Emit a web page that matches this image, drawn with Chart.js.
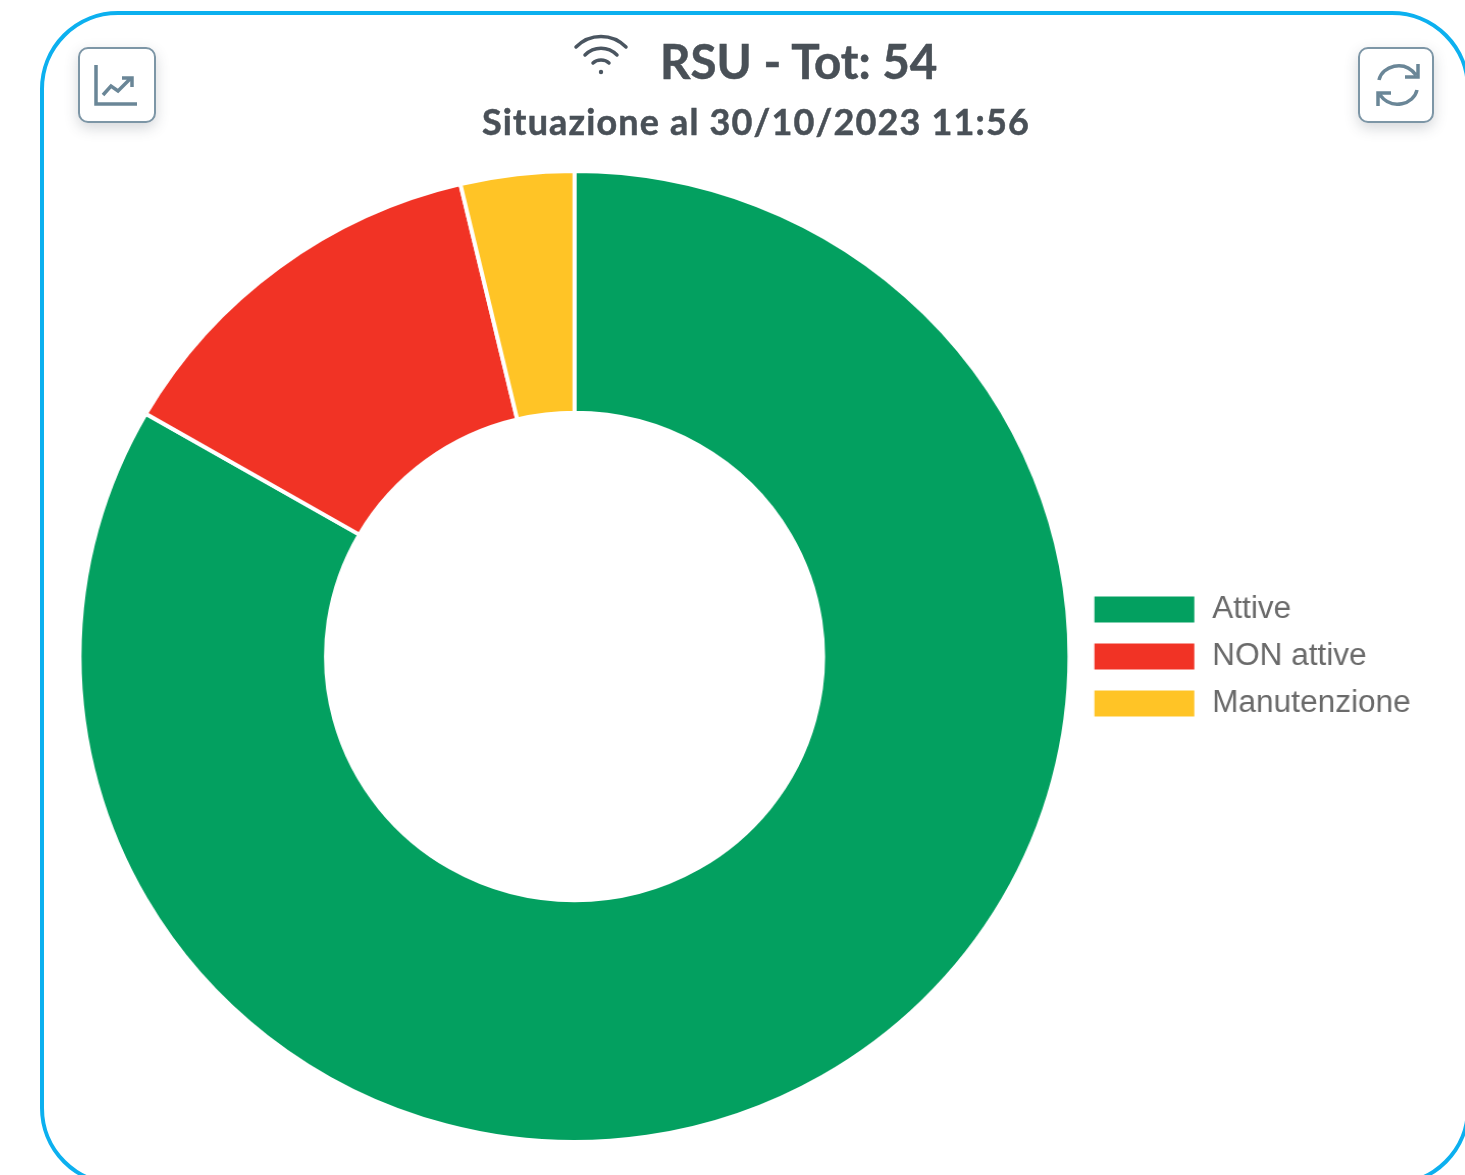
<!DOCTYPE html>
<html lang="it"><head><meta charset="utf-8">
<script src="https://cdn.jsdelivr.net/npm/chart.js@4"></script>
<style>
html,body{margin:0;padding:0;width:1465px;height:1175px;overflow:hidden;background:#fff}
#card{position:absolute;left:40px;top:11px;width:1430px;height:1175px;box-sizing:border-box;border:4.5px solid #0cb0ef;border-radius:78px;filter:blur(.5px)}
.btn{position:absolute;top:47px;height:76px;box-sizing:border-box;border:2.5px solid #7d96a6;border-radius:10px;background:#fff;box-shadow:0 5px 14px rgba(60,70,80,.22);filter:blur(.5px)}
.btn svg{position:absolute;left:-2px;top:-2px;width:78px;height:76px;fill:none;stroke:#6a8697;stroke-width:3.5}
.t{position:absolute;color:#495057;font-family:Lato,sans-serif;font-weight:700;white-space:nowrap;filter:blur(.6px);-webkit-text-stroke:.5px #495057}
#t1{left:660px;top:34px;font-size:47.5px;line-height:54px}
#t2{left:482px;top:100px;font-size:36px;line-height:42px;letter-spacing:1.15px}
#wifi{position:absolute;left:570px;top:30px;width:62px;height:50px;filter:blur(.5px)}
#wrap{position:absolute;left:72.5px;top:169px;width:1322px;height:975px;transform-origin:0 0;transform:scaleX(1.0196);filter:blur(.6px)}
</style></head><body>
<div id="card"></div>
<div id="wrap"><canvas id="c" width="1322" height="975" style="width:1322px;height:975px"></canvas></div>
<div class="btn" style="left:78px;width:78px"><svg viewBox="0 0 78 76"><path d="M18 18V57H59"/><path d="M25 48L33 39L40 44L52 32M44 31H54V40"/></svg></div>
<div class="btn" style="left:1358px;width:76px"><svg viewBox="0 0 78 76"><path d="M21 33C24 19 46 12 58 28M60 17V30H47"/><path d="M59 43C56 57 34 64 22 48M20 59V46H33"/></svg></div>
<svg id="wifi" viewBox="0 0 62 50" fill="none" stroke="#4a5560" stroke-width="3.5" stroke-linecap="round"><path d="M6 17C20 3 42 3 56 17"/><path d="M15 25C24 16 38 16 47 25"/><path d="M23 33C27 29 35 29 39 33"/><circle cx="31" cy="42" r="2.2" fill="#4a5560" stroke="none"/></svg>
<div class="t" id="t1">RSU - Tot: 54</div>
<div class="t" id="t2">Situazione al 30/10/2023 11:56</div>
<script>
const categories = ["Attive", "NON attive", "Manutenzione"];
const values = [45, 7, 2];
const colors = ["#03a060", "#f13325", "#ffc426"];

new Chart(document.getElementById("c"), {
  type: "doughnut",
  data: { labels: categories, datasets: [{ data: values, backgroundColor: colors, borderColor: "#fff", borderWidth: 4 }] },
  options: {
    responsive: false,
    animation: false,
    cutout: "50.2%",
    layout: { padding: 0 },
    plugins: {
      tooltip: { enabled: false },
      legend: {
        position: "right",
        labels: {
          boxWidth: 102, boxHeight: 30, padding: 16,
          color: "#6a6a6a",
          font: { family: "'Liberation Sans',Arial,sans-serif", size: 31 }
        }
      }
    }
  }
});
</script>
</body></html>
